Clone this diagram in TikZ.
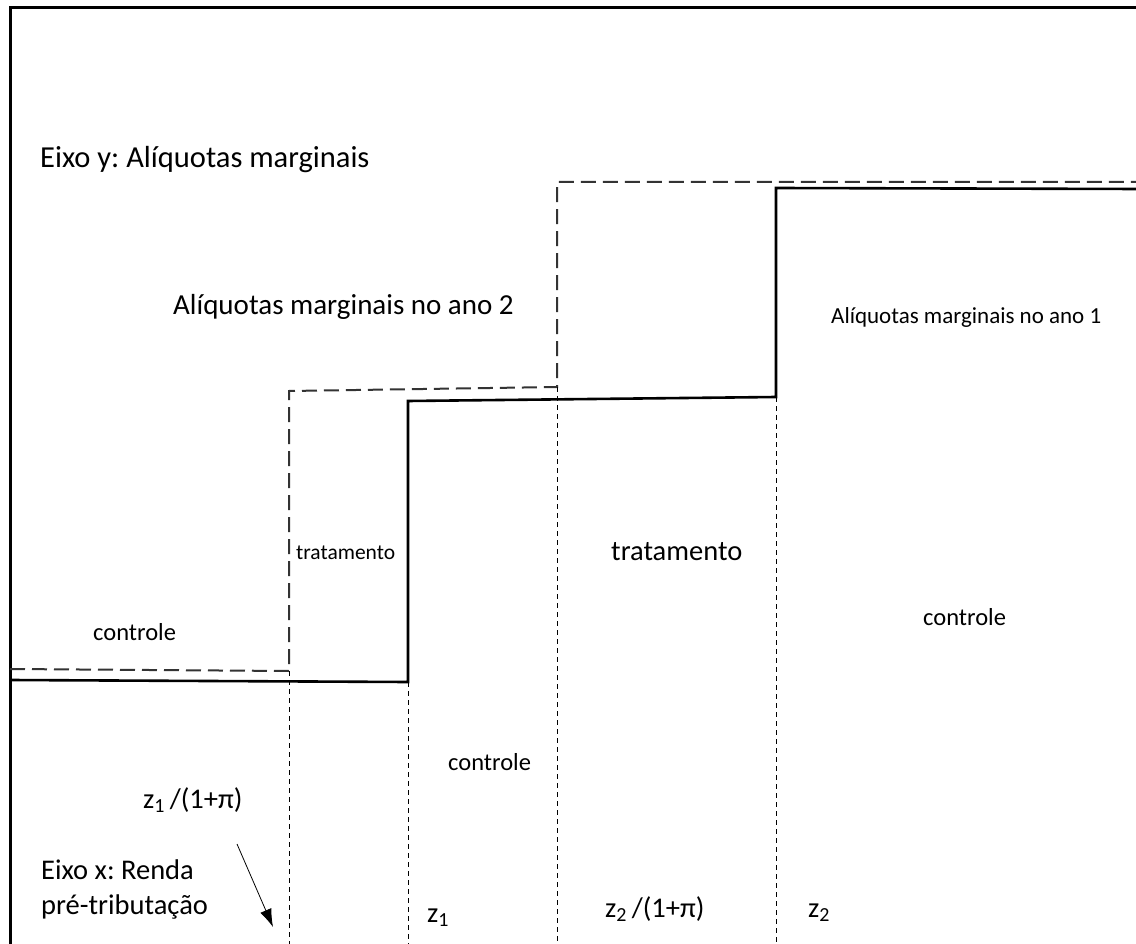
\documentclass[tikz,border=0pt]{standalone}
\usepackage{fontspec}
\setmainfont{Carlito}
\usetikzlibrary{arrows.meta}
\frenchspacing
\begin{document}
\begin{tikzpicture}[x=1pt,y=-1pt,
  frame/.style={line width=3pt},
  yeartwo/.style={line width=2pt, dash pattern=on 15pt off 7pt, color=black!80},
  yearone/.style={line width=2.6pt},
  guide/.style={line width=1pt, dash pattern=on 5pt off 4pt},
  big/.style={font=\fontsize{29}{33}\selectfont, inner sep=0pt},
  ybig/.style={font=\fontsize{30.5}{34}\selectfont, inner sep=0pt},
  xl/.style={font=\fontsize{28.5}{32}\selectfont, inner sep=0pt},
  mid/.style={font=\fontsize{23}{27}\selectfont, inner sep=0pt},
  small/.style={font=\fontsize{24.5}{28}\selectfont, inner sep=0pt},
  tiny/.style={font=\fontsize{21.5}{25}\selectfont, inner sep=0pt}]
\useasboundingbox (0,0) rectangle (1136,944);
\draw[frame] (10,950) -- (10,8) -- (1140,8);
% year 2 (dashed)
\coordinate (a0) at (10,669);
\coordinate (a1) at (289,671);
\coordinate (a2) at (289,391);
\coordinate (a3) at (557,387);
\coordinate (a4) at (557,182);
\coordinate (a5) at (1140,182);
\draw[yeartwo] (a0) -- (a1) -- (a2) -- (a3) -- (a4) -- (a5);
% year 1 (solid)
\coordinate (b0) at (10,680);
\coordinate (b1) at (408,682);
\coordinate (b2) at (408,401);
\coordinate (b3) at (776,397);
\coordinate (b4) at (776,188);
\coordinate (b5) at (1140,189);
\draw[yearone] (b0) -- (b1) -- (b2) -- (b3) -- (b4) -- (b5);
% guides
\coordinate (g1) at (289,944);
\coordinate (g2) at (408,944);
\coordinate (g3) at (557,944);
\coordinate (g4) at (776,944);
\draw[guide] (a1) -- (g1);
\draw[guide] (b1) -- (g2);
\draw[guide] (a3) -- (g3);
\draw[guide] (b3) -- (g4);
% texts
\node[ybig, anchor=west] (ylab) at (40,160) {Eixo y: Alíquotas marginais};
\node[big, anchor=west] (ano2) at (173,307) {Alíquotas marginais no ano 2};
\node[mid, anchor=west] (ano1) at (831,317) {Alíquotas marginais no ano 1};
\node[small, anchor=west] (c1) at (93,632) {controle};
\node[tiny, anchor=west] (t1) at (296,553) {tratamento};
\node[xl, anchor=west] (t2) at (611,552) {tratamento};
\node[small, anchor=west] (c3) at (923,617) {controle};
\node[small, anchor=west] (c2) at (448,762) {controle};
\node[xl, anchor=west] (zpi1) at (143,800) {z\textsubscript{1}\,/(1+π)};
\node[xl, anchor=west] (xlab1) at (41,870) {Eixo x: Renda};
\node[xl, anchor=west] (xlab2) at (41,907) {pré-tributação};
\node[xl, anchor=west] (z1) at (427,918) {z\textsubscript{1}};
\node[xl, anchor=west] (zpi2) at (605,909) {z\textsubscript{2}\,/(1+π)};
\node[xl, anchor=west] (z2) at (808,913) {z\textsubscript{2}};
\coordinate (arrS) at (237,844);
\coordinate (arrE) at (273,927);
\draw[line width=0.8pt, -{Latex[length=18pt,width=12pt]}] (arrS) -- (arrE);
\end{tikzpicture}
\end{document}
